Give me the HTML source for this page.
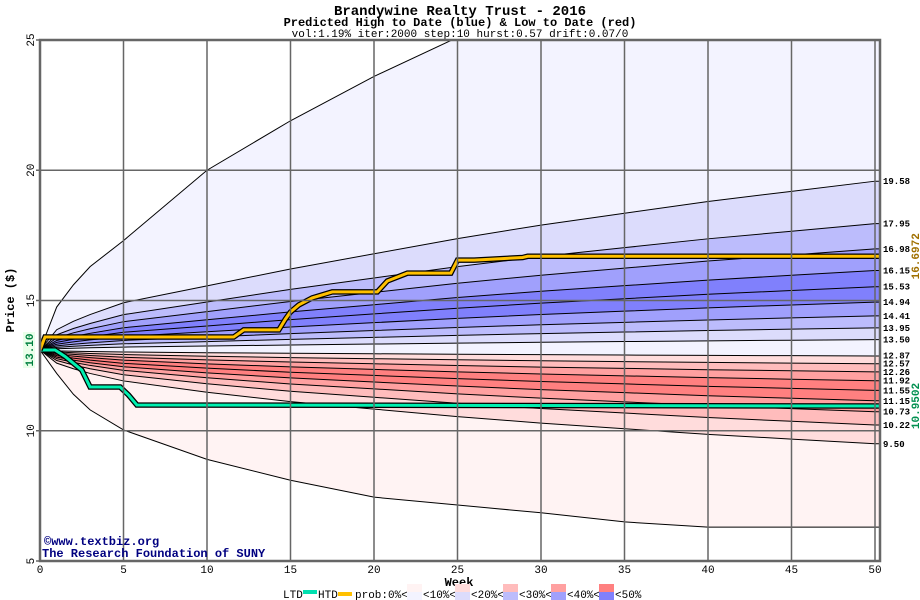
<!DOCTYPE html>
<html><head><meta charset="utf-8">
<style>
body{margin:0;background:#fff;}
svg{display:block;font-family:"Liberation Mono","DejaVu Sans Mono",monospace;}
</style></head>
<body>
<svg id="chart" width="920" height="600" viewBox="0 0 920 600">
<text x="460" y="15" text-anchor="middle" font-size="14" font-weight="bold">Brandywine Realty Trust - 2016</text>
<text x="460" y="26" text-anchor="middle" font-size="12" font-weight="bold">Predicted High to Date (blue) &amp;  Low to Date (red)</text>
<text x="460" y="37" text-anchor="middle" font-size="11">vol:1.19% iter:2000 step:10 hurst:0.57 drift:0.07/0</text>
<g id="plot"></g>
<text x="14" y="300" font-size="12" font-weight="bold" transform="rotate(-90 14 300)" text-anchor="middle">Price ($)</text>
<text x="459" y="586" font-size="12" font-weight="bold" text-anchor="middle">Week</text>
<text x="44" y="545" font-size="12" font-weight="bold" fill="#000080">©www.textbiz.org</text>
<text x="42" y="557" font-size="12" font-weight="bold" fill="#000080">The Research Foundation of SUNY</text>
<g id="legend" font-size="11"></g>
</svg>
<script>
const weeks=[0,1,2,3,5,10,15,20,25,30,35,40,45,50];
const upperFinals=[19.58,17.95,16.98,16.15,15.53,14.94,14.41,13.95,13.50];
const lowerFinals=[12.87,12.57,12.26,11.92,11.55,11.15,10.73,10.22,9.50];
const upperProfile=[0,0.12,0.17,0.21,0.28,0.38,0.48,0.57,0.66,0.74,0.81,0.88,0.94,1];
const lowerProfile=[0,0.14,0.2,0.25,0.33,0.45,0.55,0.63,0.71,0.78,0.84,0.9,0.95,1];
const maxLine=[13.1,14.75,15.6,16.3,17.3,20,21.9,23.6,25.1,26.3,27.3,28.2,29,29.8];
const minLine=[13.1,12.2,11.4,10.8,10.03,8.9,8.1,7.45,7.15,6.85,6.5,6.3,6.3,6.3];
const htdWeeks=[0,0.3,11.6,12.2,14.3,14.7,15,15.5,16.3,17.5,20.2,20.8,22,24.6,25,26,28.9,29.2,50.5];
const htdVals=[13.1,13.6,13.6,13.87,13.87,14.29,14.56,14.83,15.1,15.33,15.33,15.75,16.05,16.05,16.55,16.55,16.65,16.6972,16.6972];
const ltdWeeks=[0,0.9,1.5,2.5,3,4.8,5.3,5.8,50.5];
const ltdVals=[13.1,13.1,12.85,12.33,11.68,11.68,11.37,10.99,10.9502];
const yTicks=[5,10,15,20,25];
const xTicks=[0,5,10,15,20,25,30,35,40,45,50];
const startPrice=13.1, htdFinal=16.6972, ltdFinal=10.9502;

const NS='http://www.w3.org/2000/svg';
const X0=40,X1=880,Y0=40,Y1=561;
const xs=w=>X0+w*16.7;
const ys=p=>Y1-(p-5)*(Y1-Y0)/20;
const plot=document.getElementById('plot');
function mk(tag,attrs,parent){const e=document.createElementNS(NS,tag);for(const k in attrs)e.setAttribute(k,attrs[k]);(parent||plot).appendChild(e);return e;}

const defs=mk('defs',{});
const cp=mk('clipPath',{id:'clip'},defs);
mk('rect',{x:X0,y:Y0,width:X1-X0,height:Y1-Y0},cp);
const bg=mk('rect',{x:X0,y:Y0,width:X1-X0,height:Y1-Y0,fill:'#fff'});


const g=mk('g',{'clip-path':'url(#clip)'});

function curveVals(final,prof){return weeks.map((w,i)=>startPrice+(final-startPrice)*prof[i]);}
const curves=[maxLine].concat(upperFinals.map(f=>curveVals(f,upperProfile))).concat(lowerFinals.map(f=>curveVals(f,lowerProfile))).concat([minLine]);
const bandColors=['#f3f3ff','#dcdcfc','#bcbcfc','#a0a0fc','#8080fc','#8080fc','#a0a0fc','#bcbcfc','#dcdcfc','#f3f3ff','#ffdcdc','#ffbcbc','#ffa0a0','#ff8080','#ff8080','#ffa0a0','#ffbcbc','#ffdcdc','#fff3f3'];
const endW=50.5;
function pts(v){const p=weeks.map((w,i)=>[xs(w),ys(v[i])]);p.push([xs(endW),ys(v[v.length-1])]);return p;}
for(let i=0;i<curves.length-1;i++){
  const a=pts(curves[i]),b=pts(curves[i+1]).reverse();
  const poly=mk('polygon',{points:a.concat(b).map(p=>p.join(',')).join(' '),fill:bandColors[i]},g);
  
  
}
curves.forEach((c,i)=>{
  const l=mk('polyline',{points:pts(c).map(p=>p.join(',')).join(' '),fill:'none',stroke:'#000','stroke-width':1},g);
  
  
});
xTicks.forEach(t=>{
  const l=mk('line',{x1:xs(t),x2:xs(t),y1:Y0,y2:Y1,stroke:'#666','stroke-width':1.5});
  
  
  const tx=mk('text',{x:xs(t),y:573,'font-size':11,'text-anchor':'middle'});
  tx.textContent=t;
  
  
});
yTicks.forEach(t=>{
  const l=mk('line',{x1:X0-4,x2:X1,y1:ys(t),y2:ys(t),stroke:'#666','stroke-width':1.5});
  
  
  const tx=mk('text',{x:34,y:ys(t),'font-size':11,'text-anchor':'middle',transform:`rotate(-90 34 ${ys(t)})`});
  tx.textContent=t;
  
  
});
function stepLine(ws,vs,color,name){
  const p=ws.map((w,i)=>xs(w)+','+ys(vs[i])).join(' ');
  const o=mk('polyline',{points:p,fill:'none',stroke:'#000','stroke-width':5.5},g);
  
  
  const l=mk('polyline',{points:p,fill:'none',stroke:color,'stroke-width':3},g);
  
  
}
stepLine(ltdWeeks,ltdVals,'#00f0b0','ltd-line');
stepLine(htdWeeks,htdVals,'#ffc000','htd-line');
const border=mk('rect',{x:X0,y:Y0,width:X1-X0,height:Y1-Y0,fill:'none',stroke:'#666','stroke-width':2.5});


const gap=8.2;
let prev=-1e9;
upperFinals.forEach(v=>{
  let y=Math.max(ys(v),prev+gap); prev=y;
  const tx=mk('text',{x:883,y:y+3,'font-size':9,'font-weight':'bold'});
  tx.textContent=v.toFixed(2);
  
  
});
let prevL=1e9;
const lowY=[];
lowerFinals.slice().reverse().forEach(v=>{let y=Math.min(ys(v),prevL-gap);prevL=y;lowY.unshift(y);});
let shift=Math.max(0,prev+gap*1.6-lowY[0]);
lowerFinals.forEach((v,i)=>{
  const y=lowY[i]+shift*(1-i/lowerFinals.length);
  const tx=mk('text',{x:883,y:y+3,'font-size':9,'font-weight':'bold'});
  tx.textContent=v.toFixed(2);
  
  
});
const sb=mk('rect',{x:23,y:ys(startPrice)-18,width:12,height:36,fill:'#eaffea'});


const sp=mk('text',{x:33,y:ys(startPrice),'font-size':11,'font-weight':'bold',fill:'#008040','text-anchor':'middle',transform:`rotate(-90 33 ${ys(startPrice)})`});
sp.textContent=startPrice.toFixed(2);


const hy=ys(htdFinal);
const hl=mk('text',{x:919,y:hy,'font-size':11,'font-weight':'bold',fill:'#a07000','text-anchor':'middle',transform:`rotate(-90 919 ${hy})`});
hl.textContent=htdFinal.toString();


const ly=ys(ltdFinal);
const ll=mk('text',{x:919,y:ly,'font-size':11,'font-weight':'bold',fill:'#009050','text-anchor':'middle',transform:`rotate(-90 919 ${ly})`});
ll.textContent=ltdFinal.toString();


const lg=document.getElementById('legend');
function lt(x,s,name){const t=mk('text',{x:x,y:598},lg);t.textContent=s;}
lt(283,'LTD','legend-ltd-label');
const r1=mk('rect',{x:303,y:590,width:14,height:4,fill:'#00e0b0'},lg);


lt(318,'HTD','legend-htd-label');
const r2=mk('rect',{x:338,y:592,width:14,height:4,fill:'#ffc000'},lg);


lt(355,'prob:0%<','legend-prob-label');
const legR=['#fff3f3','#ffdcdc','#ffbcbc','#ffa0a0','#ff8080'];
const legB=['#f3f3ff','#dcdcfc','#bcbcfc','#a0a0fc','#8080fc'];
const legL=['<10%<','<20%<','<30%<','<40%<','<50%'];
legR.forEach((c,i)=>{
  const x=407+i*48;
  const a=mk('rect',{x:x,y:584,width:15,height:8,fill:c},lg);
  
  
  const b=mk('rect',{x:x,y:592,width:15,height:8,fill:legB[i]},lg);
  
  
  lt(x+16,legL[i],'legend-bucket-label');
});
</script>
</body></html>
